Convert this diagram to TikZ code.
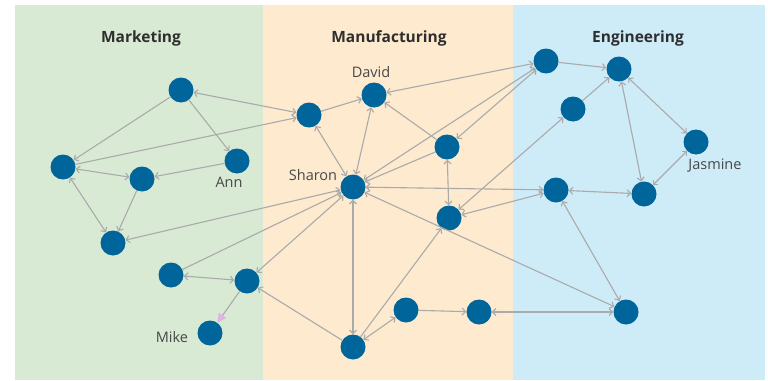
\documentclass[tikz,border=0pt]{standalone}
\usepackage{fontspec}
\setmainfont{Open Sans}
\usetikzlibrary{arrows.meta}
\definecolor{mkgreen}{RGB}{217,234,212}
\definecolor{mfpeach}{RGB}{253,234,207}
\definecolor{enblue}{RGB}{206,235,248}
\definecolor{dotblue}{RGB}{0,101,154}
\definecolor{wiregray}{RGB}{170,170,170}
\definecolor{namegray}{RGB}{72,72,72}
\definecolor{tippink}{RGB}{224,180,224}

\begin{document}
\begin{tikzpicture}[x=1pt,y=-1pt,
    person/.style={circle,fill=dotblue,minimum size=25pt,inner sep=0pt},
    link/.style={draw=wiregray,line width=1.1pt},
    dept/.style={font=\bfseries\fontsize{15.5}{18}\selectfont,text=black!82},
    who/.style={font=\fontsize{14.5}{17}\selectfont,text=namegray},
    >={Straight Barb[length=3.5pt,width=7pt]}]
   \useasboundingbox (0,0) rectangle (768,380);
   % department bands
   \fill[mkgreen] (15,5) rectangle (263,380);
   \fill[mfpeach] (263,5) rectangle (513,380);
   \fill[enblue] (513,5) rectangle (765,380);
   \node[dept] (mkHead) at (141,38) {Marketing};
   \node[dept] (mfHead) at (389,38) {Manufacturing};
   \node[dept] (enHead) at (638,38) {Engineering};

   % marketing
   \node[person] (mkTop) at (181,90) {};
   \node[person] (mkLeft) at (63,167) {};
   \node[person] (mkMid) at (142,179) {};
   \node[person] (ann) at (237,161) {};
   \node[person] (mkLow) at (113,243) {};
   \node[person] (mkBot) at (171,275) {};
   \node[person] (mkHub) at (247,281) {};
   \node[person] (mike) at (210,333) {};
   % manufacturing
   \node[person] (mfA) at (309,115) {};
   \node[person] (david) at (374,95) {};
   \node[person] (mfB) at (447,147) {};
   \node[person] (sharon) at (353,187) {};
   \node[person] (mfC) at (449,218) {};
   \node[person] (mfD) at (406,310) {};
   \node[person] (mfE) at (479,312) {};
   \node[person] (mfF) at (353,347) {};
   % engineering
   \node[person] (enA) at (546,61) {};
   \node[person] (enB) at (619,69) {};
   \node[person] (enC) at (573,109) {};
   \node[person] (jasmine) at (696,142) {};
   \node[person] (enD) at (556,190) {};
   \node[person] (enE) at (644,194) {};
   \node[person] (enF) at (626,312) {};

   \node[who] (annTxt) at (229,182) {Ann};
   \node[who] (mikeTxt) at (172,337) {Mike};
   \node[who] (davidTxt) at (371,72) {David};
   \node[who] (sharonTxt) at (313,175) {Sharon};
   \node[who] (jasmineTxt) at (715,166) {Jasmine};

   % one-way links
   \draw[link,->] (mkTop) -- (mkLeft);
   \draw[link,->] (mkTop) -- (ann);
   \draw[link,->] (ann) -- (mkMid);
   \draw[link,->] (mkMid) -- (mkLow);
   \draw[link,->] (mkLeft) -- (mfA);
   \draw[link,->] (mkBot) -- (sharon);
   \draw[link,->] (mfA) -- (david);
   \draw[link,->] (mfB) -- (david);
   \draw[link,->] (mfB) -- (sharon);
   \draw[link,->] (mfD) -- (mfE);
   \draw[link,->] (mfF) -- (mfC);
   \draw[link,->] (mfF) -- (mkHub);
   \draw[link,->] (enA) -- (enB);
   \draw[link,->] (enC) -- (enB);
   \draw[link,-{Triangle[length=9pt,width=9pt,fill=tippink,color=tippink]}] (mkHub) -- (mike);

   % two-way links
   \draw[link,<->] (mkTop) -- (mfA);
   \draw[link,<->] (mkLeft) -- (mkMid);
   \draw[link,<->] (mkLeft) -- (mkLow);
   \draw[link,<->] (mkBot) -- (mkHub);
   \draw[link,<->] (sharon) -- (mkLow);
   \draw[link,<->] (sharon) -- (mkHub);
   \draw[link,<->] (sharon) -- (mfA);
   \draw[link,<->] (sharon) -- (david);
   \draw[link,<->] (sharon) -- (mfF);
   \draw[link,<->] (sharon) -- (enA);
   \draw[link,<->] (sharon) -- (enD);
   \draw[link,<->] (sharon) -- (enF);
   \draw[link,<->] (mfB) -- (mfC);
   \draw[link,<->] (mfB) -- (enA);
   \draw[link,<->] (david) -- (enA);
   \draw[link,<->] (mfC) -- (enD);
   \draw[link,<->] (mfC) -- (enC);
   \draw[link,<->] (mfF) -- (mfD);
   \draw[link,<->] (mfE) -- (enF);
   \draw[link,<->] (enB) -- (enE);
   \draw[link,<->] (enB) -- (jasmine);
   \draw[link,<->] (jasmine) -- (enE);
   \draw[link,<->] (enD) -- (enE);
   \draw[link,<->] (enD) -- (enF);
\end{tikzpicture}
\end{document}
